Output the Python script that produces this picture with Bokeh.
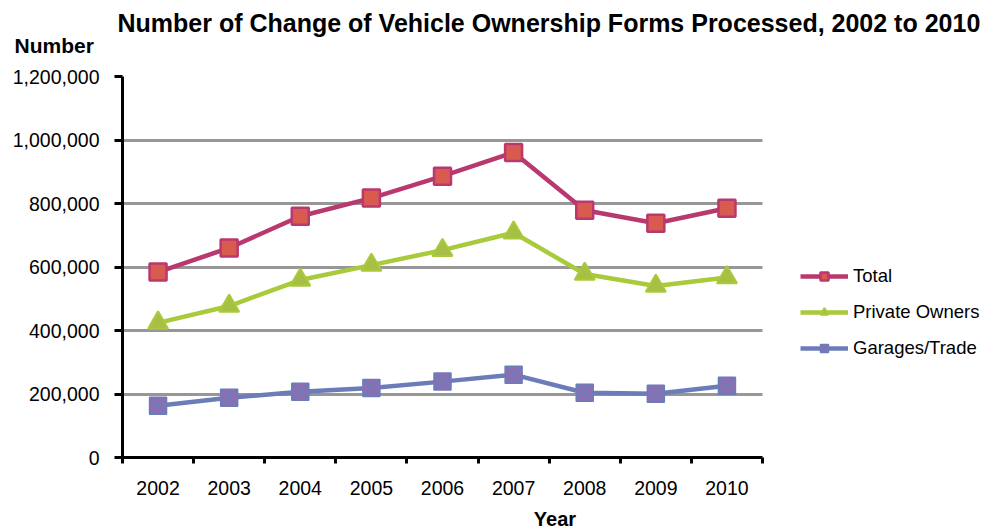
from bokeh.plotting import figure
from bokeh.models import (Range1d, FixedTicker, NumeralTickFormatter, Title,
                          Legend, LegendItem, ColumnDataSource)
from bokeh.embed import file_html
from bokeh.resources import INLINE

years = ["2002", "2003", "2004", "2005", "2006", "2007", "2008", "2009", "2010"]
total = [584000, 660000, 760000, 817000, 886000, 961000, 779000, 738000, 785000]
private_owners = [424000, 477000, 559000, 606000, 653000, 708000, 578000, 540000, 567000]
garages_trade = [163000, 188000, 207000, 219000, 239000, 261000, 204000, 201000, 226000]
y_ticks = [0, 200000, 400000, 600000, 800000, 1000000, 1200000]

title_text = "Number of Change  of Vehicle Ownership Forms Processed,  2002 to 2010"
FONT = "Liberation Sans"

W, H = 987, 532
LEFT, TOP, BOTTOM = 122, 76, 74
AXIS_W = 640  # pixel width of the category axis
n = len(years)
x_end = n * (W - LEFT) / AXIS_W  # frame extends to the right edge to host the legend

xpos = [i + 0.5 for i in range(n)]
src = ColumnDataSource(dict(x=xpos, total=total, private=private_owners, garages=garages_trade))

p = figure(width=W, height=H, output_backend="svg", toolbar_location=None,
           x_range=Range1d(0, x_end), y_range=Range1d(0, y_ticks[-1]),
           min_border_left=LEFT, min_border_right=0, min_border_top=TOP,
           min_border_bottom=BOTTOM, title=title_text)
p.outline_line_color = None
p.background_fill_color = "white"
p.border_fill_color = "white"

# main title (outermost)
p.title.align = "left"
p.title.offset = -5
p.title.standoff = -51
p.title.text_font = FONT
p.title.text_font_style = "bold"
p.title.text_font_size = "25px"
p.title.text_color = "black"

# "Number" (closer to the frame)
p.add_layout(Title(text="Number", align="left", offset=-108, standoff=40,
                   text_font=FONT, text_font_style="bold", text_font_size="21px",
                   text_color="black"), "above")

# grid
p.xgrid.grid_line_color = None
p.ygrid.grid_line_color = "#979797"
p.ygrid.grid_line_width = 3
p.ygrid.cross_bounds = (0, n)

# y axis
p.yaxis.ticker = FixedTicker(ticks=y_ticks)
p.yaxis.formatter = NumeralTickFormatter(format="0,0")
p.yaxis.axis_line_width = 3
p.yaxis.axis_line_color = "black"
p.yaxis.major_tick_out = 8
p.yaxis.major_tick_in = 0
p.yaxis.major_tick_line_width = 3
p.yaxis.major_tick_line_color = "black"
p.yaxis.minor_tick_line_color = None
p.yaxis.major_label_standoff = 15
p.yaxis.major_label_text_font = FONT
p.yaxis.major_label_text_font_size = "19.5px"
p.yaxis.major_label_text_color = "black"

# x axis
p.xaxis.bounds = (0, n)
p.xaxis.ticker = FixedTicker(ticks=xpos, minor_ticks=list(range(n + 1)))
p.xaxis.major_label_overrides = {x: y for x, y in zip(xpos, years)}
p.xaxis.axis_line_width = 3
p.xaxis.axis_line_color = "black"
p.xaxis.major_tick_out = 0
p.xaxis.major_tick_in = 0
p.xaxis.major_tick_line_color = None
p.xaxis.minor_tick_out = 6
p.xaxis.minor_tick_in = 0
p.xaxis.minor_tick_line_width = 3
p.xaxis.minor_tick_line_color = "black"
p.xaxis.major_label_standoff = 17
p.xaxis.major_label_text_font = FONT
p.xaxis.major_label_text_font_size = "19.5px"
p.xaxis.major_label_text_color = "black"
p.xaxis.axis_label = "Year"
p.xaxis.axis_label_standoff = 10
p.xaxis.axis_label_text_font = FONT
p.xaxis.axis_label_text_font_style = "bold"
p.xaxis.axis_label_text_font_size = "20px"
p.xaxis.axis_label_text_color = "black"

# series
lt = p.line("x", "total", source=src, line_color="#B8386F", line_width=4.5)
st = p.scatter("x", "total", source=src, marker="square", size=17,
               fill_color="#D95A4E", line_color="#B8386F", line_width=2.5)
lp = p.line("x", "private", source=src, line_color="#A8CA3B", line_width=4.5)
sp = p.scatter("x", "private", source=src, marker="triangle", size=20,
               fill_color="#A7BF44", line_color="#A8CA3B", line_width=2)
lg = p.line("x", "garages", source=src, line_color="#6C7CB9", line_width=4.5)
sg = p.scatter("x", "garages", source=src, marker="square_x", size=17,
               fill_color="#8B6FB2", line_color="#6C7CB9", line_width=1.5)

legend = Legend(items=[
    LegendItem(label="Total", renderers=[lt, st]),
    LegendItem(label="Private Owners", renderers=[lp, sp]),
    LegendItem(label="Garages/Trade", renderers=[lg, sg]),
], location=(678, 98))
legend.padding = 0
legend.margin = 0
legend.border_line_color = None
legend.background_fill_alpha = 0
legend.label_standoff = 5
legend.glyph_width = 48
legend.glyph_height = 20
legend.label_height = 20
legend.spacing = 14
legend.label_text_font = FONT
legend.label_text_font_size = "18.5px"
legend.label_text_color = "black"
p.add_layout(legend)

open("out.html", "w").write(file_html(p, INLINE))
